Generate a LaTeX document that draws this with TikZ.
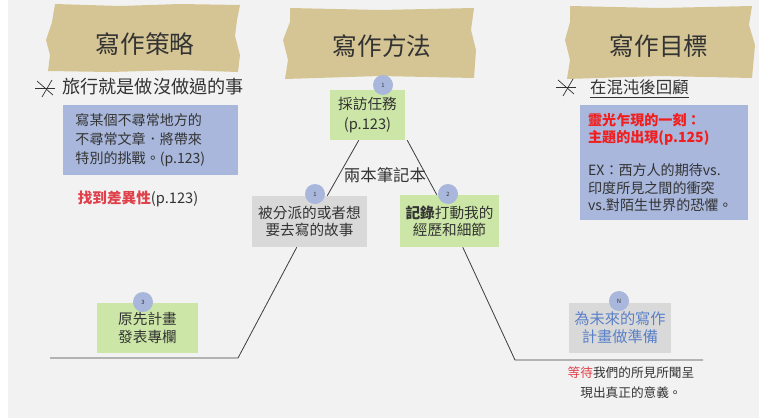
\documentclass[tikz,border=0pt]{standalone}
\usepackage{fontspec}
\setmainfont{Noto Sans CJK TC}
\usetikzlibrary{calc}

\definecolor{bggray}{HTML}{F2F2F2}
\definecolor{tapebeige}{HTML}{D5C594}
\definecolor{inkdark}{HTML}{333333}
\definecolor{linegray}{HTML}{404040}
\definecolor{noteblue}{HTML}{A8B7DB}
\definecolor{notegreen}{HTML}{CBE6A6}
\definecolor{notegray}{HTML}{D9D9D9}
\definecolor{badgeblue}{HTML}{AAB7DD}
\definecolor{hotred}{HTML}{E0404A}
\definecolor{brightred}{HTML}{F21E1E}
\definecolor{softblue}{HTML}{5A80C8}

\begin{document}
\begin{tikzpicture}[x=0.03cm, y=-0.03cm,
  tape/.style={fill=tapebeige, draw=none},
  title/.style={font=\fontsize{21}{24}\selectfont, text=inkdark},
  box/.style={rectangle, align=center, inner sep=2pt, font=\fontsize{12}{16}\selectfont, text=inkdark},
  greennote/.style={box, fill=notegreen},
  graynote/.style={box, fill=notegray},
  bluenote/.style={box, fill=noteblue, align=left},
  badge/.style={circle, fill=badgeblue, minimum size=0.6cm, inner sep=0pt, font=\fontsize{5}{6}\selectfont, text=inkdark},
  stem/.style={draw=linegray, line width=0.7pt},
  asterisk/.style={draw=inkdark, line width=0.6pt},
  plain/.style={inner sep=0pt, text=inkdark},
]

% === PAGE ===
\fill[white] (0,0) rectangle (759,418);
\fill[bggray] (8,0) rectangle (759,418);

% === TAPES (column headings) ===
\fill[tape] (55,4) -- (120,6) -- (180,4) -- (240,5) -- (237,20) -- (235,36) -- (240,55) -- (238,72)
  -- (180,70) -- (110,72) -- (48,71) -- (50,55) -- (46,40) -- (52,22) -- cycle;
\fill[tape] (290,8) -- (380,10) -- (474,8) -- (471,30) -- (476,50) -- (474,78)
  -- (380,76) -- (285,79) -- (288,60) -- (283,40) -- (290,22) -- cycle;
\fill[tape] (570,6) -- (660,8) -- (752,6) -- (749,25) -- (755,45) -- (752,78)
  -- (660,76) -- (567,79) -- (570,60) -- (565,40) -- (570,22) -- cycle;

\node[title] (strategy) at (145,44) {寫作策略};
\node[title] (method)   at (382,46) {寫作方法};
\node[title] (goal)     at (659,46) {寫作目標};

% === LEFT COLUMN ===
\coordinate (starL) at (45,88);
\draw[asterisk] ($(starL)+(-10,0)$) -- ($(starL)+(10,0)$);
\draw[asterisk] ($(starL)+(-8,-7)$) -- ($(starL)+(8,7)$);
\draw[asterisk] ($(starL)+(7,-8)$) -- ($(starL)+(-3,9)$);
\node[plain, anchor=west, font=\fontsize{15.5}{18}\selectfont] (travel) at (62,87) {旅行就是做沒做過的事};

\node[bluenote, minimum width=5.25cm, minimum height=2.1cm, text width=4.5cm] (unusual) at (150.5,140)
  {寫某個不尋常地方的\\不尋常文章．將帶來\\特別的挑戰。(p.123)};

\node[plain, font=\fontsize{12.5}{15}\selectfont] (diff) at (138,199)
  {\textcolor{hotred}{\bfseries 找到差異性}(p.123)};

% === FISHBONE (method) ===
\node[greennote, minimum width=2.25cm, minimum height=1.5cm, font=\fontsize{12.5}{17}\selectfont] (interview) at (367.5,115)
  {採訪任務\\(p.123)};
\node[graynote, minimum width=3.45cm, minimum height=1.53cm, font=\fontsize{12.5}{14.5}\selectfont] (assigned) at (309.5,221.5)
  {被分派的或者想\\要去寫的故事};
\node[greennote, minimum width=2.97cm, minimum height=1.56cm, font=\fontsize{12.5}{14.5}\selectfont] (record) at (449.5,221)
  {\textbf{記錄}打動我的\\經歷和細節};
\node[greennote, minimum width=3.03cm, minimum height=1.5cm, font=\fontsize{12.5}{15}\selectfont] (column) at (147.5,328)
  {原先計畫\\發表專欄};
\node[graynote, minimum width=3.06cm, minimum height=1.5cm, font=\fontsize{13}{15.5}\selectfont, text=softblue] (future) at (620,328)
  {為未來的寫作\\計畫做準備};

\node[plain, font=\fontsize{14}{16}\selectfont] (notebooks) at (385,175) {兩本筆記本};

\coordinate (kneeL) at (238,358);
\coordinate (endL)  at (50,358);
\coordinate (kneeR) at (515,360);
\coordinate (endR)  at (703,360);

\draw[stem] ($(interview.south west)+(29,0)$) -- ($(assigned.north east)+(-40,0)$);
\draw[stem] ($(interview.south east)+(2,0)$) -- ($(record.north west)+(37,0)$);
\draw[stem] ($(assigned.south west)+(45,0)$) -- (kneeL) -- (endL);
\draw[stem] ($(record.south west)+(63,0)$) -- (kneeR) -- (endR);

\node[badge] (b1top)  at (383,85)  {1};
\node[badge] (b1)     at (315,194) {1};
\node[badge] (b2)     at (448,194) {2};
\node[badge] (b3)     at (143,302) {3};
\node[badge] (bN)     at (619,301) {N};

\node[plain, align=center, font=\fontsize{10.8}{17}\selectfont] (wait) at (631,383)
  {\textcolor{hotred}{等待}我們的所見所聞呈\\現出真正的意義。};

% === RIGHT COLUMN ===
\coordinate (starR) at (566,87);
\draw[asterisk] ($(starR)+(-10,0)$) -- ($(starR)+(10,0)$);
\draw[asterisk] ($(starR)+(-8,-7)$) -- ($(starR)+(8,7)$);
\draw[asterisk] ($(starR)+(7,-8)$) -- ($(starR)+(-3,9)$);
\node[plain, anchor=west, font=\fontsize{14}{16}\selectfont] (review) at (590,87) {在混沌後回顧};
\draw[inkdark, line width=0.6pt] ([yshift=-2pt]review.south west) -- ([yshift=-2pt]review.south east);

\node[bluenote, minimum width=5.04cm, minimum height=3.45cm, text width=4.55cm, font=\fontsize{12}{15}\selectfont] (moment) at (664,162.5)
  {\textcolor{brightred}{\bfseries 靈光乍現的一刻：}\\\textcolor{brightred}{\bfseries 主題的出現(p.125)}\\[13pt]
   EX：西方人的期待vs.\\印度所見之間的衝突\\vs.對陌生世界的恐懼。};
\end{tikzpicture}
\end{document}
